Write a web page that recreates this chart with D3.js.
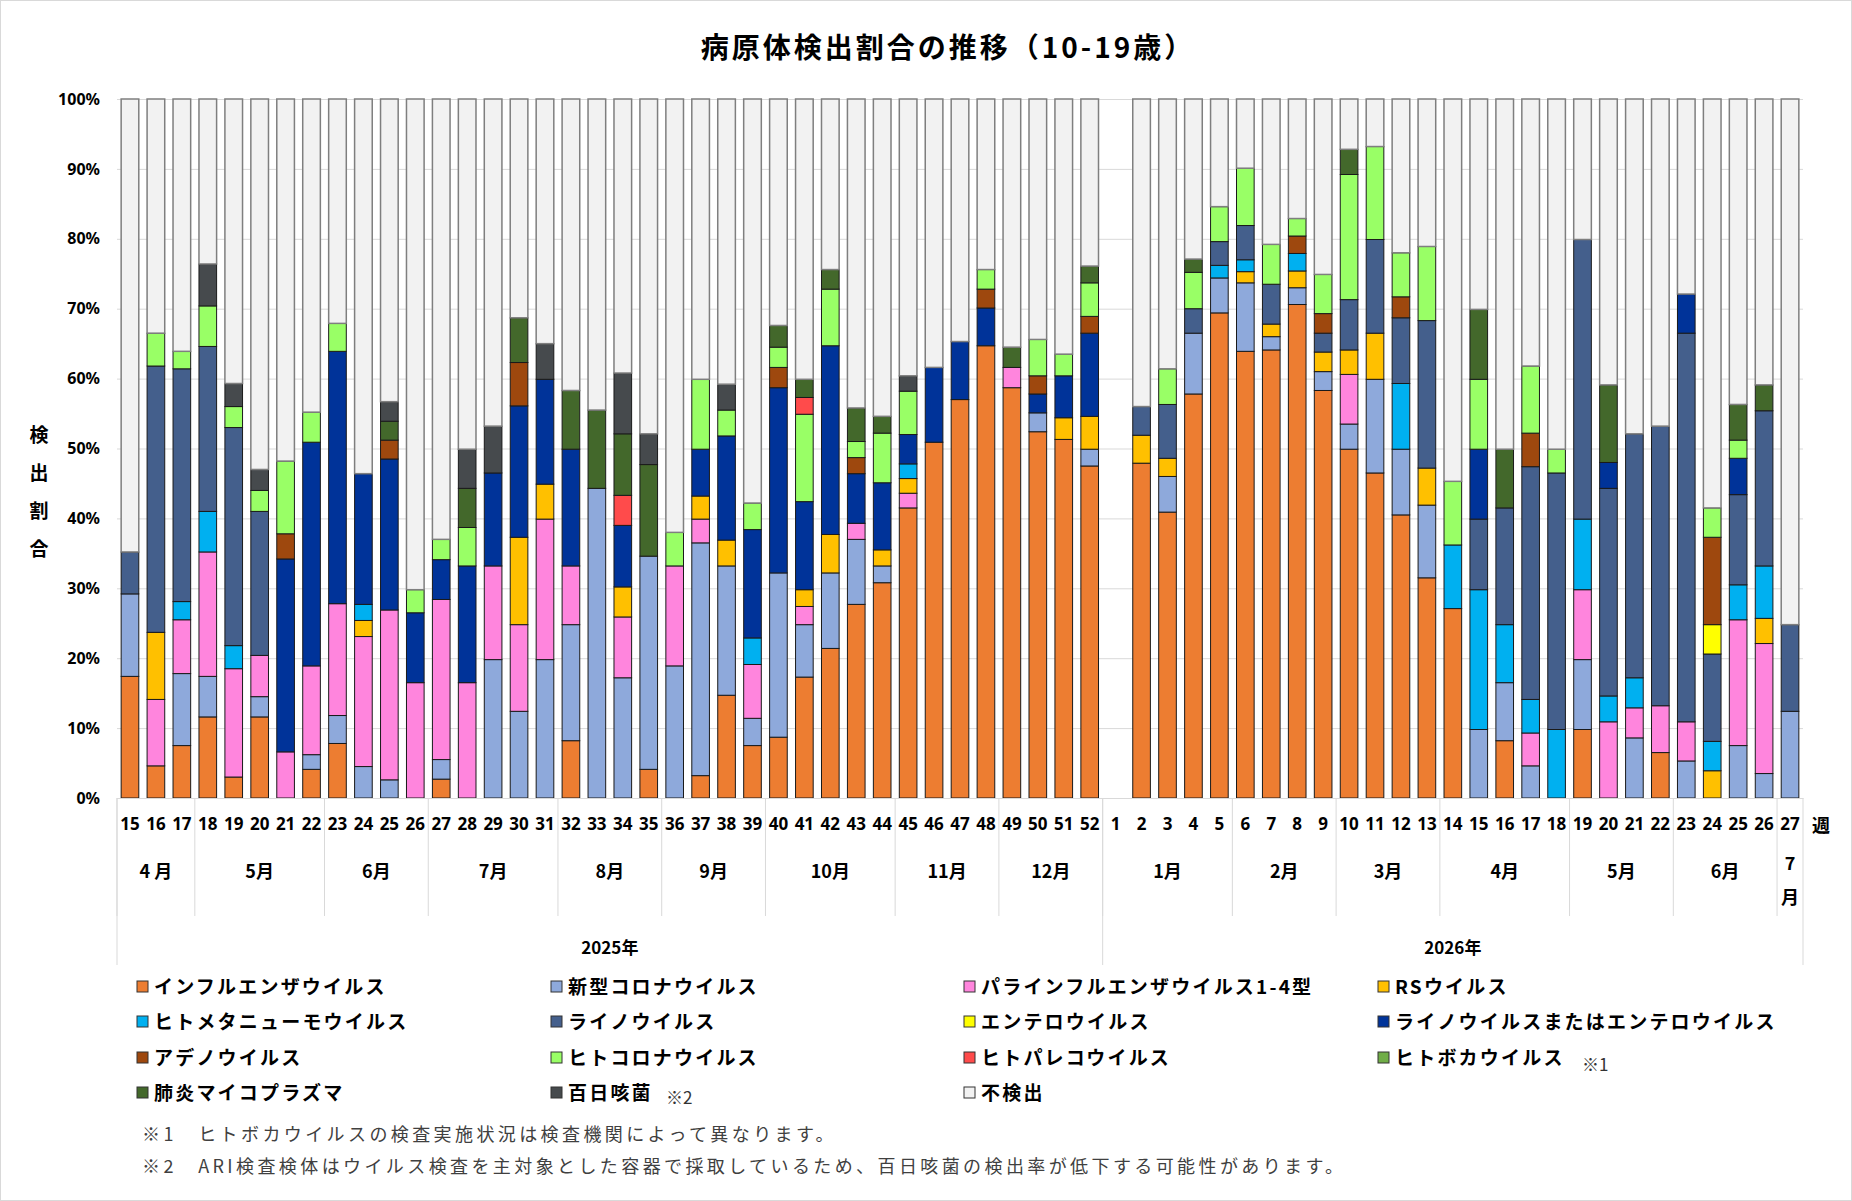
<!DOCTYPE html>
<html>
<head>
<meta charset="utf-8">
<script src="https://cdn.jsdelivr.net/npm/d3@7"></script>
<style>
body { margin: 0; background: #fff; }
svg { font-family: "Noto Sans CJK JP", "Noto Sans", sans-serif; }
</style>
</head>
<body>
<svg id="chart"></svg>
<script>
// week labels: 2025 w15-52, 2026 w1-27
const weeks = [15,16,17,18,19,20,21,22,23,24,25,26,27,28,29,30,31,32,33,34,35,36,37,38,39,40,41,42,43,44,45,46,47,48,49,50,51,52,
               1,2,3,4,5,6,7,8,9,10,11,12,13,14,15,16,17,18,19,20,21,22,23,24,25,26,27];

const monthLabels = ['4 月','5月','6月','7月','8月','9月','10月','11月','12月','1月','2月','3月','4月','5月','6月','7月'];
const monthSizes  = [3,5,4,5,4,4,5,4,4, 5,4,4,5,4,4,1];
const yearLabels  = ['2025年','2026年'];
const yearSizes   = [38,27];
const yTicks = [0,10,20,30,40,50,60,70,80,90,100];

const names = ['インフルエンザウイルス','新型コロナウイルス','パラインフルエンザウイルス1-4型','RSウイルス',
  'ヒトメタニューモウイルス','ライノウイルス','エンテロウイルス','ライノウイルスまたはエンテロウイルス',
  'アデノウイルス','ヒトコロナウイルス','ヒトパレコウイルス','ヒトボカウイルス',
  '肺炎マイコプラズマ','百日咳菌','不検出'];
const colors = ['#ED7D31','#8EA9DB','#FF85DD','#FFC000','#00B0F0','#445F8C','#FFFF00','#003399',
  '#9E480E','#99FF66','#FF4B4B','#70AD47','#43682B','#464A4D','#F2F2F2'];

// values in %, 2025 (38) then 2026 (27)
const flu = [17.4,4.6,7.5,11.6,3.0,11.6,0,4.1,7.8,0,0,0,2.7,0,0,0,0,8.2,0,0,4.1,0,3.2,14.7,7.5,8.7,17.3,21.4,27.7,30.8,41.5,50.9,57.0,64.7,58.7,52.4,51.3,47.5,
  null,47.9,40.9,57.8,69.4,63.9,64.1,70.6,58.3,49.9,46.5,40.5,31.5,27.1,0,8.2,0,0,9.8,0,0,6.5,0,0,0,0,0];
const covid = [11.8,0,10.3,5.8,0,2.9,0,2.1,4.0,4.5,2.6,0,2.8,0,19.8,12.4,19.8,16.6,44.3,17.2,30.5,18.9,33.3,18.5,3.9,23.5,7.5,10.8,9.3,2.4,0,0,0,0,0,2.7,0,2.4,
  null,0,5.1,8.7,5.0,9.8,1.9,2.4,2.7,3.6,13.4,9.4,10.4,0,9.8,8.3,4.6,0,10.0,0,8.6,0,5.3,0,7.5,3.5,12.4];
const para = [0,9.5,7.7,17.8,15.5,5.9,6.6,12.7,16.0,18.6,24.3,16.5,22.9,16.5,13.4,12.4,20.1,8.4,0,8.7,0,14.3,3.4,0,7.7,0,2.6,0,2.3,0,2.1,0,0,0,2.9,0,0,0,
  null,0,0,0,0,0,0,0,0,7.1,0,0,0,0,0,0,4.7,0,10.0,10.9,4.3,6.7,5.6,0,18.0,18.6,0];
const rsv = [0,9.6,0,0,0,0,0,0,0,2.3,0,0,0,0,0,12.5,5.0,0,0,4.3,0,0,3.3,3.7,0,0,2.4,5.5,0,2.3,2.1,0,0,0,0,0,3.1,4.7,
  null,4.0,2.6,0,0,1.6,1.8,2.4,2.8,3.5,6.6,0,5.3,0,0,0,0,0,0,0,0,0,0,3.9,0,3.6,0];
const hmpv = [0,0,2.6,5.8,3.3,0,0,0,0,2.3,0,0,0,0,0,0,0,0,0,0,0,0,0,0,3.8,0,0,0,0,0,2.1,0,0,0,0,0,0,0,
  null,0,0,0,1.8,1.7,0,2.5,0,0,0,9.4,0,9.1,20.0,8.3,4.8,9.8,10.1,3.7,4.3,0,0,4.2,5.0,7.5,0];
const rhino = [6.0,38.1,33.3,23.6,31.2,20.6,0,0,0,0,0,0,0,0,0,0,0,0,0,0,0,0,0,0,0,0,0,0,0,0,0,0,0,0,0,0,0,0,
  null,4.1,7.7,3.5,3.4,4.9,5.7,0,2.7,7.2,13.4,9.4,21.1,0,10.1,16.7,33.3,36.7,40.0,29.7,34.9,40.0,55.6,12.5,12.9,22.2,12.4];
const entero = [0,0,0,0,0,0,0,0,0,0,0,0,0,0,0,0,0,0,0,0,0,0,0,0,0,0,0,0,0,0,0,0,0,0,0,0,0,0,
  null,0,0,0,0,0,0,0,0,0,0,0,0,0,0,0,0,0,0,0,0,0,0,4.2,0,0,0];
const rhinoEntero = [0,0,0,0,0,0,27.6,32.0,36.1,18.7,21.6,10.0,5.7,16.7,13.3,18.8,15.0,16.7,0,8.8,0,0,6.7,14.9,15.5,26.5,12.6,27.0,7.1,9.6,4.2,10.7,8.3,5.4,0,2.7,6.0,11.9,
  null,0,0,0,0,0,0,0,0,0,0,0,0,0,10.0,0,0,0,0,3.7,0,0,5.6,0,5.2,0,0];
const adeno = [0,0,0,0,0,0,3.6,0,0,0,2.7,0,0,0,0,6.2,0,0,0,0,0,0,0,0,0,2.9,0,0,2.3,0,0,0,0,2.7,0,2.6,0,2.4,
  null,0,0,0,0,0,0,2.5,2.8,0,0,3.0,0,0,0,0,4.8,0,0,0,0,0,0,12.5,0,0,0];
const hcov = [0,4.7,2.5,5.8,3.0,3.0,10.4,4.3,4.0,0,0,3.3,2.9,5.5,0,0,0,0,0,0,0,4.8,10.0,3.7,3.8,2.9,12.5,8.1,2.3,7.1,6.2,0,0,2.8,0,5.2,3.1,4.8,
  null,0,5.1,5.2,5.0,8.2,5.7,2.5,5.6,17.9,13.3,6.3,10.6,9.1,10.0,0,9.6,3.4,0,0,0,0,0,4.2,2.6,0,0];
const hpev = [0,0,0,0,0,0,0,0,0,0,0,0,0,0,0,0,0,0,0,4.3,0,0,0,0,0,0,2.4,0,0,0,0,0,0,0,0,0,0,0,
  null,0,0,0,0,0,0,0,0,0,0,0,0,0,0,0,0,0,0,0,0,0,0,0,0,0,0];
const boca = [0,0,0,0,0,0,0,0,0,0,0,0,0,0,0,0,0,0,0,0,0,0,0,0,0,0,0,0,0,0,0,0,0,0,0,0,0,0,
  null,0,0,0,0,0,0,0,0,0,0,0,0,0,0,0,0,0,0,0,0,0,0,0,0,0,0];
const myco = [0,0,0,0,0,0,0,0,0,0,2.7,0,0,5.6,0,6.4,0,8.4,11.2,8.8,13.1,0,0,0,0,3.1,2.6,2.8,4.8,2.4,0,0,0,0,2.9,0,0,2.4,
  null,0,0,1.9,0,0,0,0,0,3.6,0,0,0,0,10.0,8.4,0,0,0,11.1,0,0,0,0,5.1,3.7,0];
const pertussis = [0,0,0,6.0,3.3,3.0,0,0,0,0,2.8,0,0,5.6,6.7,0,5.1,0,0,8.7,4.4,0,0,3.7,0,0,0,0,0,0,2.2,0,0,0,0,0,0,0,
  null,0,0,0,0,0,0,0,0,0,0,0,0,0,0,0,0,0,0,0,0,0,0,0,0,0,0];
const notDetected = [64.8,33.5,36.1,23.6,40.7,53.0,51.8,44.8,32.1,53.6,43.3,70.2,63.0,50.1,46.8,31.3,35.0,41.7,44.5,39.2,47.9,62.0,40.1,40.8,57.8,32.4,40.1,24.4,44.2,45.4,39.6,38.4,34.7,24.4,35.5,34.4,36.5,23.9,
  null,44.0,38.6,22.9,15.4,9.9,20.8,17.1,25.1,7.2,6.8,22.0,21.1,54.7,30.1,50.1,38.2,50.1,20.1,40.9,47.9,46.8,27.9,58.5,43.7,40.9,75.2];

const seriesValues = [flu,covid,para,rsv,hmpv,rhino,entero,rhinoEntero,adeno,hcov,hpev,boca,myco,pertussis,notDetected];

const W = 1852, H = 1201;
const plot = {left: 117, right: 1803, top: 99, bottom: 798};

const svg = d3.select('#chart').attr('width', W).attr('height', H);
svg.append('rect')
  .attr('x', 0.5).attr('y', 0.5).attr('width', W - 1).attr('height', H - 1)
  .attr('fill', '#fff').attr('stroke', '#d9d9d9');

// title
svg.append('text')
  .attr('x', 948).attr('y', 58)
  .attr('text-anchor', 'middle')
  .style('font-size', '28px').style('font-weight', 'bold').style('letter-spacing', '3px')
  .text('病原体検出割合の推移（10-19歳）');

const rows = weeks.map((w, i) => {
  const r = {idx: i, week: w};
  names.forEach((n, k) => { r[n] = seriesValues[k][i] || 0; });
  return r;
});

const x = d3.scaleBand()
  .domain(d3.range(weeks.length))
  .range([plot.left, plot.right])
  .paddingInner(0.32)
  .paddingOuter(0.16);

const y = d3.scaleLinear().domain([0, 100]).range([plot.bottom, plot.top]);

// gridlines + y labels
const yaxis = d3.axisLeft(y)
  .tickValues(yTicks)
  .tickSize(-(plot.right - plot.left))
  .tickPadding(17)
  .tickFormat(d => d + '%');
const yg = svg.append('g').attr('transform', `translate(${plot.left},0)`).call(yaxis);
yg.select('.domain').remove();
yg.selectAll('line').attr('stroke', '#d9d9d9');
yg.selectAll('text').style('font-size', '16px').style('font-weight', 'bold')
  .style('font-family', '"Noto Sans", sans-serif').attr('fill', '#000');

// y title, stacked
const ytitle = ['検','出','割','合'];
svg.append('g').selectAll('text').data(ytitle).join('text')
  .attr('x', 39).attr('y', (d, i) => 442 + i * 38)
  .attr('text-anchor', 'middle')
  .style('font-size', '19px').style('font-weight', 'bold')
  .text(d => d);

// bars
const stack = d3.stack().keys(names);
const layers = stack(rows);

const step = x.step();
const edge = i => x(i) - (step - x.bandwidth()) / 2;

svg.append('g').selectAll('g')
  .data(layers)
  .join('g')
    .attr('fill', (d, k) => colors[k])
    .attr('stroke', (d, k) => k === names.length - 1 ? '#7f7f7f' : '#1a1a1a')
    .attr('stroke-width', (d, k) => k === names.length - 1 ? 1.5 : 1)
  .selectAll('rect')
  .data(d => d.filter(p => p[1] - p[0] > 0))
  .join('rect')
    .attr('x', d => x(d.data.idx))
    .attr('y', d => y(Math.min(d[1], 100)))
    .attr('width', x.bandwidth())
    .attr('height', d => y(d[0]) - y(Math.min(d[1], 100)));

// x axis: week labels
const xaxis = d3.axisBottom(x)
  .tickSize(0)
  .tickPadding(20)
  .tickFormat(i => weeks[i]);
const xg = svg.append('g').attr('transform', `translate(0,${plot.bottom})`).call(xaxis);
xg.select('.domain').attr('stroke', '#d9d9d9');
xg.selectAll('text').style('font-size', '17px').style('font-weight', 'bold')
  .style('font-family', '"Noto Sans", sans-serif').attr('fill', '#000');

svg.append('text')
  .attr('x', 1821).attr('y', 832)
  .attr('text-anchor', 'middle')
  .style('font-size', '18px').style('font-weight', 'bold')
  .text('週');

// month groups
const sep = svg.append('g').attr('stroke', '#d9d9d9').attr('stroke-width', 1);
let start = 0;
monthSizes.forEach((n, m) => {
  const x0 = edge(start), x1 = edge(start) + n * step;
  sep.append('line').attr('x1', x0).attr('x2', x0).attr('y1', plot.bottom).attr('y2', 916);
  const cx = (x0 + x1) / 2;
  if (monthLabels[m] === '7月' && n === 1) {
    svg.append('text').attr('x', cx).attr('y', 870).attr('text-anchor', 'middle')
      .style('font-size', '18px').style('font-weight', 'bold').text('7');
    svg.append('text').attr('x', cx).attr('y', 904).attr('text-anchor', 'middle')
      .style('font-size', '18px').style('font-weight', 'bold').text('月');
  } else {
    svg.append('text').attr('x', cx).attr('y', 878).attr('text-anchor', 'middle')
      .style('font-size', '18px').style('font-weight', 'bold').text(monthLabels[m]);
  }
  start += n;
});

// year groups
start = 0;
yearSizes.forEach((n, k) => {
  const x0 = edge(start), x1 = edge(start) + n * step;
  sep.append('line').attr('x1', x0).attr('x2', x0).attr('y1', plot.bottom).attr('y2', 965);
  if (k === yearSizes.length - 1) {
    sep.append('line').attr('x1', x1).attr('x2', x1).attr('y1', plot.bottom).attr('y2', 965);
  }
  svg.append('text').attr('x', (x0 + x1) / 2).attr('y', 954).attr('text-anchor', 'middle')
    .style('font-size', '17px').style('font-weight', 'bold').text(yearLabels[k]);
  start += n;
});

// legend
const legCols = [137, 551, 964, 1378];
const legRows = [987, 1022, 1058, 1093];
const leg = svg.append('g').selectAll('g').data(names).join('g')
  .attr('transform', (d, i) => `translate(${legCols[i % 4]},${legRows[Math.floor(i / 4)]})`);
leg.append('rect')
  .attr('x', 0).attr('y', -6).attr('width', 11).attr('height', 11)
  .attr('fill', (d, i) => colors[i])
  .attr('stroke', '#333').attr('stroke-width', 1);
leg.append('text')
  .attr('x', 17).attr('y', 7)
  .style('font-size', '19px').style('font-weight', 'bold').style('letter-spacing', '2.2px')
  .text(d => d);

// footnote marks in legend
svg.append('text').attr('x', 1582).attr('y', 1071)
  .style('font-size', '17px').attr('fill', '#333').text('※1');
svg.append('text').attr('x', 666).attr('y', 1104)
  .style('font-size', '17px').attr('fill', '#333').text('※2');

// footnotes
const notes = [
  '※1　ヒトボカウイルスの検査実施状況は検査機関によって異なります。',
  '※2　ARI検査検体はウイルス検査を主対象とした容器で採取しているため、百日咳菌の検出率が低下する可能性があります。'
];
svg.append('g').selectAll('text').data(notes).join('text')
  .attr('x', 142).attr('y', (d, i) => 1141 + i * 32)
  .style('font-size', '18px').style('letter-spacing', '3.4px')
  .attr('fill', '#404040')
  .text(d => d);
</script>
</body>
</html>
